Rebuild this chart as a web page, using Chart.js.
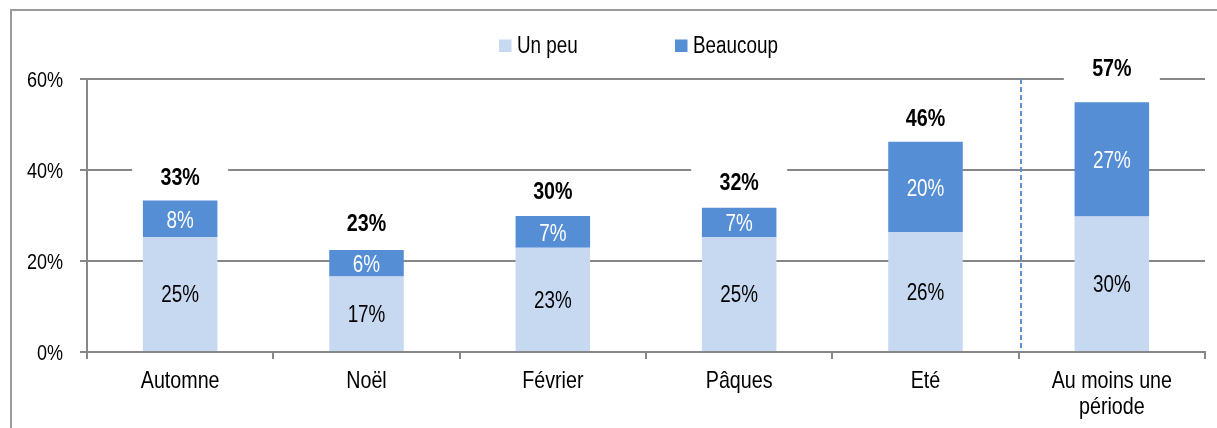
<!DOCTYPE html>
<html>
<head>
<meta charset="utf-8">
<script src="https://cdn.jsdelivr.net/npm/chart.js@4.4.0/dist/chart.umd.min.js"></script>
<style>
  html, body { margin: 0; padding: 0; background: #fff; }
  canvas { display: block; }
</style>
</head>
<body>
<canvas id="chart" width="1217" height="428"></canvas>
<script>
// donnees
const categories = ["Automne", "Noël", "Février", "Pâques", "Eté", ["Au moins une", "période"]];
const unPeu = [25.3, 16.6, 22.9, 25.3, 26.4, 29.8];
const beaucoup = [8.0, 5.8, 7.0, 6.4, 19.8, 25.1];
const unPeuLabels = ["25%", "17%", "23%", "25%", "26%", "30%"];
const beaucoupLabels = ["8%", "6%", "7%", "7%", "20%", "27%"];
const totalLabels = ["33%", "23%", "30%", "32%", "46%", "57%"];
const totalValues = [33, 23, 30, 32, 46, 57];
const yTicks = [0, 20, 40, 60];

const FONT = "'Liberation Sans', Arial, sans-serif";
const NARROW = 0.82; // imite Arial Narrow (pas installee)
const LIGHT = '#c6d9f1';
const DARK = '#558ed5';
const GRID = '#878787';

// texte etroit : on comprime horizontalement
function narrowText(ctx, text, x, y, align) {
  ctx.save();
  ctx.translate(x, y);
  ctx.scale(NARROW, 1);
  ctx.textAlign = align || 'center';
  ctx.fillText(text, 0, 0);
  ctx.restore();
}

const decorPlugin = {
  id: 'decor',
  beforeDatasetsDraw(chart) {
    // fonds blancs des totaux (cachent le quadrillage)
    const ctx = chart.ctx;
    const y = chart.scales.y;
    ctx.save();
    ctx.fillStyle = '#fff';
    chart.getDatasetMeta(1).data.forEach((bar, i) => {
      const cy = y.getPixelForValue(totalValues[i]) - 25;
      ctx.fillRect(bar.x - 48, cy - 16, 96, 32);
    });
    ctx.restore();
  },
  afterDatasetsDraw(chart) {
    const ctx = chart.ctx;
    const x = chart.scales.x;
    const y = chart.scales.y;
    const area = chart.chartArea;
    ctx.save();
    ctx.textBaseline = 'alphabetic';

    // etiquettes dans les barres
    ctx.font = "23px " + FONT;
    chart.getDatasetMeta(0).data.forEach((bar, i) => {
      ctx.fillStyle = '#000';
      narrowText(ctx, unPeuLabels[i], bar.x, (bar.y + bar.base) / 2 + 8.5);
    });
    chart.getDatasetMeta(1).data.forEach((bar, i) => {
      ctx.fillStyle = '#fff';
      narrowText(ctx, beaucoupLabels[i], bar.x, (bar.y + bar.base) / 2 + 9);
    });

    // totaux
    ctx.font = "bold 24px " + FONT;
    ctx.fillStyle = '#000';
    chart.getDatasetMeta(1).data.forEach((bar, i) => {
      narrowText(ctx, totalLabels[i], bar.x, y.getPixelForValue(totalValues[i]) - 16.5);
    });

    // graduations Y
    ctx.font = "22px " + FONT;
    yTicks.forEach(v => {
      narrowText(ctx, v + '%', 63, y.getPixelForValue(v) + 8, 'right');
    });

    // categories X
    ctx.font = "24px " + FONT;
    categories.forEach((lab, i) => {
      const lines = Array.isArray(lab) ? lab : [lab];
      lines.forEach((l, k) => {
        narrowText(ctx, l, x.getPixelForValue(i), 388 + k * 26);
      });
    });

    // separation pointillee avant "Au moins une periode"
    const sx = Math.round((x.getPixelForValue(4) + x.getPixelForValue(5)) / 2) + 2;
    ctx.strokeStyle = '#5a90d8';
    ctx.lineWidth = 2;
    ctx.setLineDash([5, 3]);
    ctx.beginPath();
    ctx.moveTo(sx, area.top);
    ctx.lineTo(sx, area.bottom);
    ctx.stroke();
    ctx.restore();
  },
  afterDraw(chart) {
    const ctx = chart.ctx;
    ctx.save();
    // cadre
    ctx.strokeStyle = '#9a9a9a';
    ctx.lineWidth = 2;
    ctx.beginPath();
    ctx.moveTo(11, 428);
    ctx.lineTo(11, 10);
    ctx.lineTo(1217, 10);
    ctx.stroke();

    // legende
    const items = [
      { text: 'Un peu', color: LIGHT, x: 499 },
      { text: 'Beaucoup', color: DARK, x: 675 }
    ];
    ctx.font = "23px " + FONT;
    ctx.textBaseline = 'alphabetic';
    items.forEach(it => {
      ctx.fillStyle = it.color;
      ctx.fillRect(it.x, 39.5, 12.5, 12.5);
      ctx.fillStyle = '#000';
      narrowText(ctx, it.text, it.x + 18, 52.5, 'left');
    });
    ctx.restore();
  }
};

new Chart(document.getElementById('chart'), {
  type: 'bar',
  data: {
    labels: categories,
    datasets: [
      { label: 'Un peu', data: unPeu, backgroundColor: LIGHT, borderWidth: 0 },
      { label: 'Beaucoup', data: beaucoup, backgroundColor: DARK, borderWidth: 0 }
    ]
  },
  options: {
    responsive: false,
    devicePixelRatio: 1,
    animation: false,
    layout: { padding: { top: 79, right: 12, left: 0, bottom: 0 } },
    datasets: { bar: { barPercentage: 0.4, categoryPercentage: 1 } },
    plugins: {
      legend: { display: false },
      tooltip: { enabled: false }
    },
    scales: {
      x: {
        stacked: true,
        grid: { offset: true, drawOnChartArea: false, tickLength: 7, color: GRID, lineWidth: 2 },
        border: { color: GRID, width: 2 },
        ticks: { display: false },
        afterFit(scale) { scale.height = 76; }
      },
      y: {
        stacked: true,
        min: 0,
        max: 60,
        afterBuildTicks(scale) { scale.ticks = yTicks.map(v => ({ value: v })); },
        grid: { tickLength: 7, color: GRID, lineWidth: 2 },
        border: { color: GRID, width: 2 },
        ticks: { display: false },
        afterFit(scale) { scale.width = 87; }
      }
    }
  },
  plugins: [decorPlugin]
});
</script>
</body>
</html>
